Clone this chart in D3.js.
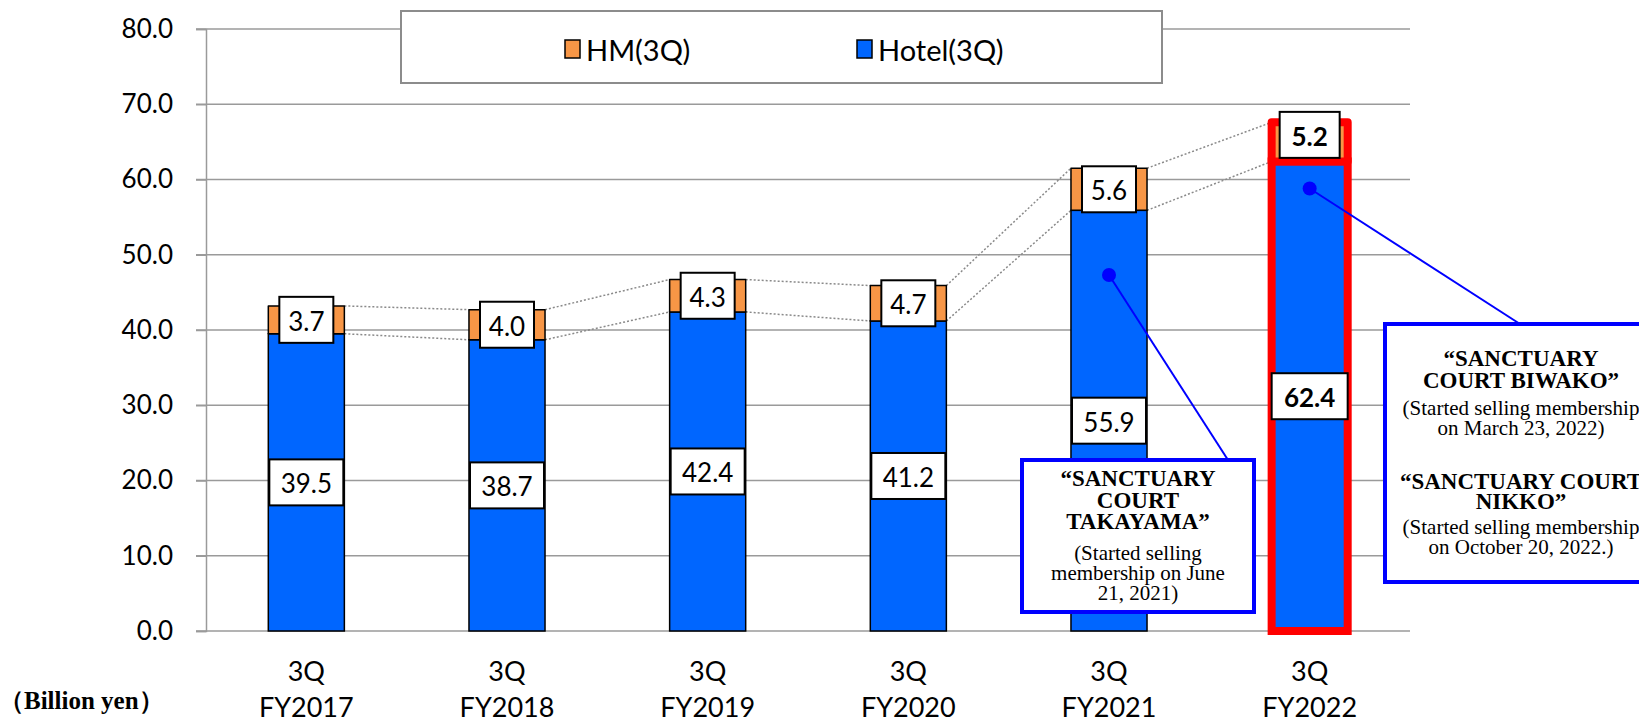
<!DOCTYPE html>
<html>
<head>
<meta charset="utf-8">
<script src="https://cdn.jsdelivr.net/npm/d3@7"></script>
<style>
body { margin: 0; background: #fff; }
svg { display: block; }
</style>
</head>
<body>
<script>
// datos del grafico
var categories = ["FY2017", "FY2018", "FY2019", "FY2020", "FY2021", "FY2022"]
var hotel = [39.5, 38.7, 42.4, 41.2, 55.9, 62.4]
var hm = [3.7, 4.0, 4.3, 4.7, 5.6, 5.2]
var yTicks = [0, 10, 20, 30, 40, 50, 60, 70, 80]
var legendNames = ["HM(3Q)", "Hotel(3Q)"]
// puntos azules de las notas (valor en el eje y)
var notePoints = [{cat: "FY2021", value: 47.3}, {cat: "FY2022", value: 58.8}]

var width = 1639
var height = 723
var colorHotel = "#0066ff"
var colorHM = "#f79646"

var datos = categories.map(function (c, i) {
    return {cat: c, hotel: hotel[i], hm: hm[i], total: hotel[i] + hm[i], last: i == categories.length - 1}
})

var escalaX = d3.scaleBand()
    .domain(categories)
    .range([206, 1410])
    .paddingInner(0.621)
    .paddingOuter(0.3105)

var escalaY = d3.scaleLinear()
    .domain([0, 80])
    .range([631, 29])

var svg = d3.select("body").append("svg")
    .attr("width", width)
    .attr("height", height)

// lineas de la cuadricula
svg.append("g")
    .selectAll("line")
    .data(yTicks)
    .enter()
    .append("line")
    .attr("x1", 196)
    .attr("x2", 1410)
    .attr("y1", d => escalaY(d))
    .attr("y2", d => escalaY(d))
    .attr("stroke", "#9a9a9a")
    .attr("stroke-width", 1.5)

// eje y
var ejeY = d3.axisLeft(escalaY)
    .tickValues(yTicks)
    .tickFormat(d3.format(".1f"))
    .tickSize(10)
    .tickPadding(23)

var gY = svg.append("g")
    .attr("transform", "translate(206,0)")
    .call(ejeY)
gY.select(".domain").attr("stroke", "#9a9a9a").attr("stroke-width", 1.5)
gY.selectAll(".tick line").attr("stroke", "#9a9a9a").attr("stroke-width", 1.5)
gY.selectAll(".tick text")
    .attr("font-family", "Lato, sans-serif")
    .attr("font-size", 26)
    .attr("fill", "#000")

// leyenda
var leyenda = svg.append("g")
leyenda.append("rect")
    .attr("x", 401).attr("y", 11)
    .attr("width", 761).attr("height", 72)
    .attr("fill", "#fff")
    .attr("stroke", "#8c8c8c")
    .attr("stroke-width", 2)

var itemsLeyenda = leyenda.selectAll("g.item")
    .data(legendNames)
    .enter()
    .append("g")
    .attr("transform", (d, i) => "translate(" + (565 + i * 292) + ",40)")
itemsLeyenda.append("rect")
    .attr("width", 15).attr("height", 18)
    .attr("fill", (d, i) => i == 0 ? colorHM : colorHotel)
    .attr("stroke", "#000")
    .attr("stroke-width", 1.5)
itemsLeyenda.append("text")
    .attr("x", 21).attr("y", 9)
    .attr("dominant-baseline", "central")
    .attr("font-family", "Lato, sans-serif")
    .attr("font-size", 29)
    .text(d => d)

// lineas punteadas entre barras
var pares = d3.pairs(datos)
var punteadas = svg.append("g")
pares.forEach(function (p) {
    ["total", "hotel"].forEach(function (k) {
        punteadas.append("line")
            .attr("x1", escalaX(p[0].cat) + escalaX.bandwidth())
            .attr("y1", escalaY(p[0][k]))
            .attr("x2", escalaX(p[1].cat))
            .attr("y2", escalaY(p[1][k]))
            .attr("stroke", "#8a8a8a")
            .attr("stroke-width", 1.5)
            .attr("stroke-dasharray", "2,2")
    })
})

// barras
var barras = svg.append("g").selectAll("g").data(datos).enter().append("g")
barras.append("rect")
    .attr("x", d => escalaX(d.cat))
    .attr("width", escalaX.bandwidth())
    .attr("y", d => escalaY(d.hotel))
    .attr("height", d => escalaY(0) - escalaY(d.hotel))
    .attr("fill", colorHotel)
    .attr("stroke", d => d.last ? "#ff0000" : "#000")
    .attr("stroke-width", d => d.last ? 8 : 1.5)
barras.append("rect")
    .attr("x", d => escalaX(d.cat))
    .attr("width", escalaX.bandwidth())
    .attr("y", d => escalaY(d.total))
    .attr("height", d => escalaY(d.hotel) - escalaY(d.total))
    .attr("fill", colorHM)
    .attr("stroke", d => d.last ? "#ff0000" : "#000")
    .attr("stroke-width", d => d.last ? 8 : 1.5)
    .attr("stroke-linejoin", "round")

// etiquetas de valores
function etiqueta(g, cx, cy, w, txt, bold) {
    g.append("rect")
        .attr("x", cx - w / 2).attr("y", cy - 23)
        .attr("width", w).attr("height", 46)
        .attr("fill", "#fff")
        .attr("stroke", "#000")
        .attr("stroke-width", 2)
    g.append("text")
        .attr("x", cx).attr("y", cy + 1)
        .attr("text-anchor", "middle")
        .attr("dominant-baseline", "central")
        .attr("font-family", "Lato, sans-serif")
        .attr("font-size", 26)
        .attr("font-weight", bold ? "bold" : "normal")
        .text(txt)
}
var etiquetas = svg.append("g")
datos.forEach(function (d) {
    var cx = escalaX(d.cat) + escalaX.bandwidth() / 2
    etiqueta(etiquetas, cx, escalaY(d.hotel / 2), d.last ? 76 : 74, d3.format(".1f")(d.hotel), d.last)
    etiqueta(etiquetas, cx, escalaY(d.hotel + d.hm / 2) - (d.last ? 7 : 0), d.last ? 60 : 54, d3.format(".1f")(d.hm), d.last)
})

// eje x (dos lineas)
var ejeX = svg.append("g")
datos.forEach(function (d) {
    var cx = escalaX(d.cat) + escalaX.bandwidth() / 2
    var t = ejeX.append("text")
        .attr("text-anchor", "middle")
        .attr("font-family", "Lato, sans-serif")
        .attr("font-size", 27)
    t.append("tspan").attr("x", cx).attr("y", 681).text("3Q")
    t.append("tspan").attr("x", cx).attr("y", 717).text(d.cat)
})

svg.append("text")
    .attr("x", -1).attr("y", 709)
    .attr("font-family", "'Liberation Serif', serif")
    .attr("font-weight", "bold")
    .attr("font-size", 25)
    .text("（Billion yen）")

// notas con recuadro azul
var notas = [
    {box: [1022, 460, 232, 152], anchor: [1228, 460], cx: 1138, lines: [
        ["“SANCTUARY", 1, 478], ["COURT", 1, 500], ["TAKAYAMA”", 1, 521],
        ["(Started selling", 0, 553], ["membership on June", 0, 573], ["21, 2021)", 0, 593]]},
    {box: [1385, 324, 275, 258], anchor: [1520, 324], cx: 1521, lines: [
        ["“SANCTUARY", 1, 358], ["COURT BIWAKO”", 1, 380],
        ["(Started selling membership", 0, 408], ["on March 23, 2022)", 0, 428],
        ["“SANCTUARY COURT", 1, 481], ["NIKKO”", 1, 501],
        ["(Started selling membership", 0, 527], ["on October 20, 2022.)", 0, 547]]}
]

var gNotas = svg.append("g")
notas.forEach(function (n, i) {
    var p = notePoints[i]
    var px = escalaX(p.cat) + escalaX.bandwidth() / 2
    var py = escalaY(p.value)
    gNotas.append("line")
        .attr("x1", px).attr("y1", py)
        .attr("x2", n.anchor[0]).attr("y2", n.anchor[1])
        .attr("stroke", "#0000ff")
        .attr("stroke-width", 2)
    gNotas.append("circle")
        .attr("cx", px).attr("cy", py).attr("r", 7)
        .attr("fill", "#0000ff")
    gNotas.append("rect")
        .attr("x", n.box[0]).attr("y", n.box[1])
        .attr("width", n.box[2]).attr("height", n.box[3])
        .attr("fill", "#fff")
        .attr("stroke", "#0000ff")
        .attr("stroke-width", 4)
    n.lines.forEach(function (l) {
        gNotas.append("text")
            .attr("x", n.cx).attr("y", l[2])
            .attr("text-anchor", "middle")
            .attr("dominant-baseline", "central")
            .attr("font-family", "'Liberation Serif', serif")
            .attr("font-weight", l[1] ? "bold" : "normal")
            .attr("font-size", l[1] ? 23 : 21)
            .text(l[0])
    })
})
</script>
</body>
</html>
